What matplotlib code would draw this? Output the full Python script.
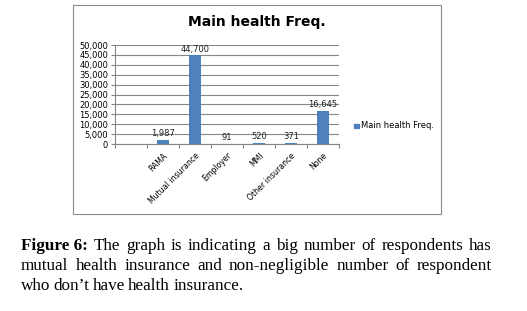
import matplotlib
matplotlib.use("Agg")
import matplotlib.pyplot as plt
from matplotlib.patches import Rectangle

# first slot is an empty category in the source chart
categories = ["", "RAMA", "Mutual insurance", "Employer", "MMI", "Other insurance", "None"]
values = [None, 1987, 44700, 91, 520, 371, 16645]
yticks = list(range(0, 50001, 5000))
series_name = "Main health Freq."
caption_lines = [
    ["Figure 6:", "The graph is indicating a big number of respondents has"],
    ["", "mutual health insurance and non-negligible number of respondent"],
    ["", "who don\u2019t have health insurance."],
]

BLUE = "#4F81BD"
GRID = "#868686"
W, H = 527, 311

fig = plt.figure(figsize=(W / 100, H / 100), dpi=100)
fig.patch.set_facecolor("white")

# chart frame
fig.patches.append(Rectangle((73 / W, 1 - 214 / H), (441 - 73) / W, (214 - 5) / H,
                             transform=fig.transFigure, fill=False, ec="#8c8c8c", lw=0.8))

ax = fig.add_axes([115 / W, 1 - 144 / H, (339 - 115) / W, (144 - 45) / H])
x = list(range(len(categories)))
xs = [xi for xi, v in zip(x, values) if v is not None]
vs = [v for v in values if v is not None]
ax.bar(xs, vs, width=0.38, color=BLUE, label=series_name, zorder=3)
for xi, v in zip(xs, vs):
    ax.text(xi, v + 900, f"{v:,}", ha="center", va="bottom", fontsize=6, color="#222222", zorder=4)

ax.set_xlim(-0.5, len(categories) - 0.5)
ax.set_ylim(0, 50000)
ax.set_yticks(yticks)
ax.set_yticklabels([f"{t:,}" for t in yticks], fontsize=6)
ax.yaxis.grid(True, color=GRID, lw=0.8, zorder=0)
for s in ["top", "right"]:
    ax.spines[s].set_visible(False)
ax.spines["left"].set_color(GRID)
ax.spines["bottom"].set_color(GRID)
ax.tick_params(axis="y", length=3, color=GRID, pad=2)
ax.set_xticks([i - 0.5 for i in range(len(categories) + 1)])
ax.set_xticklabels([])
ax.tick_params(axis="x", length=3, color=GRID)
for xi, c in zip(x, categories):
    if c:
        ax.text(xi, -3500, c, rotation=45, ha="right", va="top", rotation_mode="anchor",
                fontsize=5.6, transform=ax.transData)

fig.text(257 / W, 1 - 22 / H, "Main health Freq.", ha="center", va="center",
         fontsize=10, fontweight="bold")

# legend
fig.patches.append(Rectangle((354 / W, 1 - 128 / H), 4.5 / W, 4.5 / H,
                             transform=fig.transFigure, color=BLUE))
fig.text(361 / W, 1 - 126 / H, series_name, ha="left", va="center", fontsize=6)

# justified caption
renderer = fig.canvas.get_renderer()
left, right = 21, 492
baselines = [250, 270, 290]
for li, (bold, rest) in enumerate(caption_lines):
    words = []
    if bold:
        words.append((bold, "bold"))
    words += [(w, "normal") for w in rest.split()]
    y = 1 - baselines[li] / H
    texts = [fig.text(0, y, w, fontsize=12.3, family="Liberation Serif", fontweight=wt,
                      va="baseline", ha="left") for w, wt in words]
    widths = [t.get_window_extent(renderer).width for t in texts]
    if li < len(caption_lines) - 1:
        gap = (right - left - sum(widths)) / (len(words) - 1)
    else:
        gap = 3.2
    pos = left
    for t, w in zip(texts, widths):
        t.set_x(pos / W)
        pos += w + gap

fig.savefig("out.png", dpi=100)
